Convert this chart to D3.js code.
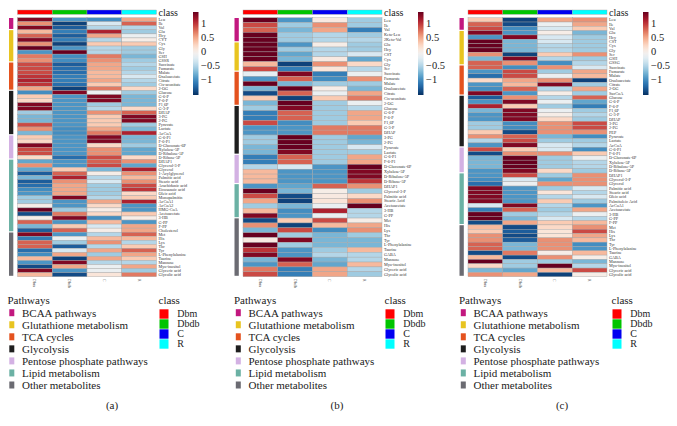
<!DOCTYPE html>
<html><head><meta charset="utf-8">
<script src="https://cdn.jsdelivr.net/npm/d3@7"></script>
<style>body{margin:0;background:#fff}svg{display:block}
svg text{font-family:"Liberation Serif","Times New Roman",Times,"DejaVu Serif",serif;}
</style>
</head><body>
<script>
// ---------- data ----------
const classes = ["Dbm","Dbdb","C","R"];
const classColors = ["#ff0000","#00c400","#0000f0","#00ffff"];
const pathways = ["BCAA pathways","Glutathione metabolism","TCA cycles","Glycolysis","Pentose phosphate pathways","Lipid metabolism","Other metabolites"];
const pathwayColors = ["#c2187f","#e8c420","#e4521e","#1e1e1e","#d3b1e3","#6bb1a4","#6b6b72"];
const colorTicks = [1,0.5,0,-0.5,-1];
const captions = ["(a)","(b)","(c)"];

const labelsA = ["Leu","Ile","Val","Glu","Hcy","CYT","Cys","Gly","Ser","GSH","GSSR","Succinate","Fumarate","Malate","Oxaloacetate","Citrate","Cis-aconitate","2-OG","Glucose","G-6-P","F-6-P","F1,6P","G-3-P","DHAP","3-PG","2-PG","Pyruvate","Lactate","AcCoA","G-6-P1","F-6-P1","D-Gluconate-6P","Xylulose-5P","D-Ribulose-5P","D-Ribose-5P","DHAP1","Glycerol-3-P","Glycerol","1-Acylglycerol","Palmitic acid","Stearic acid","Arachidonic acid","Eicosanoic acid","Oleic acid","Monopalmitin","AcCoA1","AcCoA2","HMG-CoA","Acetoacetate","3-HB","G-PP","F-PP","Cholesterol","Met","His","Lys","Thr","Tyr","L-Phenylalanine","Taurine","Mannose","Myo-inositol","Glyceric acid","Glycolic acid"];
const groupsA = [3,8,7,11,6,18,11];
const dbmA = [1.3,0.6,1.3,0.4,0.8,1.3,0.6,1.4,-0.95,0.7, 0.6,0.9,0.9,0.9,1.0,1.1,1.0,0.5,-1.0,0.3, 0.2,1.3,1.3,-0.6,-0.75,-0.75,0.9,0.6,-0.75,0.3, 0.2,1.3,0.9,0.9,0.2,-0.85,0.6,-0.85,-1.3,-0.75, -1.3,-1.2,-1.0,-0.95,-0.6,-0.6,0,1.4,-1.4,0, 0.8,-0.75,-1.3,1.3,-1.1,0.8,0.8,-1.2,-1.0,0.4, -0.95,-1.4,1.3,0.4];
const dbdbA = [-0.95,-1.45,-1.3,-1.1,-1.3,-1.1,-1.45,-0.95,1.4,-1.0, -1.0,-1.3,-1.2,-1.2,-1.1,-1.1,-1.2,-1.45,1.3,-0.95, -0.95,-0.95,-0.95,-0.95,-0.95,-0.95,-0.95,-1.0,-1.0,-0.95, -0.95,-0.95,-0.95,-0.95,-1.2,-0.95,-0.95,0.3,0.8,1.1, 0.6,0.5,0.5,0.5,1.3,-0.95,-0.95,-0.6,0.7,1.3, -0.95,0.3,0.8,-0.95,-0.15,-0.6,-1.3,-0.3,0.5,-1.45, 1.3,0.5,-0.95,-1.4];
const cA = [-1.0,-0.3,-0.5,1.1,0.5,-0.5,0.3,-0.5,-0.5,0.7, 0.6,0.5,0.5,0.4,0.4,0.5,0.3,0.7,-0.15,1.3, 1.3,-0.6,-0.5,0.6,0.3,0.3,0.3,0.5,0.7,1.3, 1.3,0.2,0.6,0.6,0.9,0.8,0.9,-0.75,0,-0.5, -0.3,-0.6,-0.6,-0.6,-0.5,0.5,0.2,0,0.2,-1.0, 0.4,-0.3,0,-0.5,0.4,0.6,-0.5,0.5,-0.6,0.5, -0.5,-0.15,-0.15,0.1];
const rA = [0.5,0.8,-0.5,-0.6,-0.15,0,0.3,-0.6,-0.6,-0.75, -0.6,-0.5,-0.6,-0.5,-0.3,-0.5,-0.6,0.2,-0.6,-0.75, -0.75,-0.75,0.2,0.8,1.3,1.3,-0.6,-0.75,1.1,-0.75, -0.75,-0.6,-0.85,-0.85,0.2,0.6,-0.85,1.1,0.6,0.4, 0.6,0.9,1.0,0.2,0.3,1.1,-0.95,-0.95,0.3,0, -0.95,0.5,0.5,0.8,0.4,-0.5,0.3,0.8,0.5,0.3, -0.5,0.5,-0.6,0.7];

const labelsB = ["Leu","Ile","Val","Keto-Leu","2Keto-Val","Glu","Hcy","CST","Cys","Gly","Ser","Succinate","Fumarate","Malate","Oxaloacetate","Citrate","Cis-aconitate","2-OG","Glucose","G-6-P","F-6-P","F1,6P","G-3-P","DHAP","3-PG","2-PG","Pyruvate","Lactate","G-6-P1","F-6-P1","D-Gluconate-6P","Xylulose-5P","D-Ribulose-5P","D-Ribose-5P","DHAP1","Glycerol-3-P","Palmitic acid","Stearic Acid","Acetoacetate","3-HB","G-PP","Met","His","Lys","Thr","Tyr","L-Phenylalanine","Taurine","GABA","Mannose","Myo-inositol","Glyceric acid","Glycolic acid"];
const groupsB = [5,6,7,10,6,7,12];
const dbmB = [1.4,0.9,0.8,1.4,1.4,1.4,1.4,1.4,1.4,0.4, 0.9,-0.2,-0.95,1.4,-0.75,-1.4,0.3,-0.75,-0.6,-1.1, -1.1,0.9,-0.95,-0.95,-0.6,-0.6,-0.75,-0.75,-1.1,-1.1, -0.5,0.4,0.4,0.4,-0.95,1.4,0.9,0.5,-0.6,0.4, 1.3,-1.4,0.6,-0.75,1.4,0.05,1.4,1.0,1.3,-0.75, -0.95,0.7,0.9];
const dbdbB = [-0.95,-0.6,-0.75,-0.6,-0.6,-0.95,-0.6,-0.85,-0.75,-1.45, -1.1,1.3,0.8,-0.75,1.4,0.8,-1.45,1.4,1.3,0.8, 0.8,-1.0,-0.95,-0.95,1.4,1.4,1.4,1.3,0.8,0.8, -0.3,-0.95,-0.95,-0.95,-0.85,-0.75,-1.4,-1.45,-0.75,-1.0, -0.95,0.3,-1.45,0.9,-0.6,1.3,-0.6,-0.95,-0.95,1.3, 0.8,-1.1,-1.1];
const cB = [0.05,0.6,0.5,-0.5,-0.5,0,-0.5,-0.5,0.05,0.6, 0.1,-1.1,-1.0,-0.6,0,-0.15,0.3,-0.6,-0.6,-0.6, -0.6,-0.6,0.7,0.7,-0.6,-0.6,-0.6,-0.6,-0.6,-0.6, -0.95,-0.95,-0.95,-0.95,0.8,0,0.05,0.1,-0.15,1.1, -0.15,0.9,0.4,-1.0,-0.75,-0.75,-0.75,-0.6,-0.5,-0.75, -0.85,0.5,0.5];
const rB = [-0.6,-0.6,-1.1,-0.6,-0.5,-0.6,-0.6,-0.3,-0.85,0.2, -0.5,-0.15,0.6,-0.6,-0.75,0.5,0.7,-0.15,-0.5,0.5, 0.5,0.3,0.7,0.7,-0.85,-0.75,-0.3,-0.6,0.5,0.5, 1.4,1.3,1.3,1.0,0.6,-0.6,0.2,0.6,1.4,-0.5, -0.5,0,0.5,0.6,-0.6,-0.75,-0.75,0.4,-0.5,-0.5, 0.4,-0.5,-0.6];

const labelsC = ["Leu","Ile","Val","Glu","Hcy","CST","Cys","Gly","Ser","GSH","GSSG","Succinate","Fumarate","Malate","Oxaloacetate","Citrate","2-OG","SucCoA","Glucose","G-6-P","F-6-P","F1,6P","G-3-P","DHAP","3-PG","2-PG","PEP","Pyruvate","Lactate","AcCoA","G-6-P1","F-6-P1","D-Gluconate-6P","Xylulose-5P","D-Ribulose-5P","D-Ribose-5P","DHAP1","Glycerol-3-P","Glycerol","Palmitic acid","Stearic acid","Oleic acid","Palmitoleic Acid","AcCoA1","Acetoacetate","3-HB","G-PP","F-PP","Met","His","Lys","Thr","Tyr","L-Phenylalanine","Taurine","GABA","Mannose","Myo-inositol","Glyceric acid","Glycolic acid"];
const groupsC = [3,8,7,12,6,12,12];
const dbmC = [0.3,0.8,0.9,1.3,-0.95,1.4,1.4,1.4,0.6,-0.75, 0.8,0.8,-0.95,-1.2,0.2,-0.95,-1.0,1.3,-1.3,-0.95, 1.1,-0.75,-0.95,-0.95,-0.6,-0.6,0.3,0.6,-0.5,-0.95, 0.9,-1.4,-0.75,-0.75,-0.75,-0.95,-0.95,-1.0,-1.2,1.3, 1.3,1.3,1.3,-0.3,-1.1,1.4,1.4,-1.4,0.4,0.3, 0.6,0.6,0.8,0.8,-1.4,0.4,1.4,0.2,-0.75,0.6];
const dbdbC = [-1.45,-1.4,-1.0,-0.95,1.3,-0.75,-0.75,-0.75,-1.45,1.3, 0.6,-1.0,0.9,0.9,0.5,0.4,0.8,-0.95,0.6,1.3, 0.3,1.3,1.3,1.3,-1.0,-1.0,-1.4,0.8,0.9,1.3, 0.3,0.6,1.4,1.4,1.4,1.3,0.9,-0.3,-0.15,-0.95, -0.95,-0.95,-0.95,1.3,0.8,-0.6,-0.75,0.5,-1.4,-1.3, -1.4,-1.3,-0.75,-0.75,0.7,-1.4,-0.6,-0.6,-0.85,0.5];
const cC = [0.5,-0.15,-0.3,0,-0.3,-0.3,-0.5,-0.5,0.3,-0.5, -1.0,0.6,-0.6,-0.15,0.6,1.3,-0.5,0,-0.5,-0.15, -0.6,-0.15,0,0.2,0.6,0.6,0.6,-0.75,-0.6,-0.3, -0.3,0.6,-0.6,-0.6,-0.6,0.2,-0.6,-0.85,0.6,-0.6, 0.1,-0.5,0.3,-0.5,-0.6,-0.5,-0.3,0.3,0.2,0.1, 0.1,0.6,0.6,0.6,0,0.6,-0.6,1.4,0.4,-1.45];
const rC = [0.6,0.5,0.3,-0.75,-0.6,-0.6,-0.6,-0.6,0.6,-0.6, -0.5,-0.3,0.5,0.4,-1.45,-0.6,0.5,-0.6,0.8,-0.85, -1.1,-0.6,-0.5,-0.6,0.9,0.9,0.6,-1.0,-0.6,-0.5, -1.0,0.3,-0.15,-0.5,-0.5,-0.6,0.6,0.6,0.6,-0.3, -0.5,-0.3,-0.6,-0.95,0.5,-0.15,-0.5,0.4,0.6,0.9, 0.5,0.4,-1.0,-0.95,0.4,0,-0.75,-0.5,0.9,0];

// ---------- layout ----------
const W = 677, H = 426;
const panels = [
  {labels:labelsA, groups:groupsA, cols:[dbmA,dbdbA,cA,rA], hx:17.5, lx:7.5, cx:159.5, cbx:193, cap:112},
  {labels:labelsB, groups:groupsB, cols:[dbmB,dbdbB,cB,rB], hx:243, lx:234, cx:385.5, cbx:418, cap:337},
  {labels:labelsC, groups:groupsC, cols:[dbmC,dbdbC,cC,rC], hx:468, lx:459, cx:612.5, cbx:643, cap:562}
];
const HW = 139, TOP = 17.7, BOT = 276.7;

const color = d3.scaleSequential(d3.interpolateRdBu).domain([1.4,-1.55]).clamp(true);

const svg = d3.select("body").append("svg").attr("width",W).attr("height",H);
const defs = svg.append("defs");
const grad = defs.append("linearGradient").attr("id","cb").attr("x1",0).attr("x2",0).attr("y1",0).attr("y2",1);
d3.range(0,1.0001,0.05).forEach(t=>{
  grad.append("stop").attr("offset",t).attr("stop-color",color(1.4 + t*(-1.55-1.4)));
});

panels.forEach((p,pi)=>{
  const g = svg.append("g");
  const n = p.labels.length;
  const x = d3.scaleBand().domain(classes).range([p.hx, p.hx+HW]);
  const y = d3.scaleBand().domain(d3.range(n)).range([TOP, BOT]);

  // class bar
  g.selectAll(".cls").data(classes).join("rect")
    .attr("x",d=>x(d)).attr("y",10).attr("width",x.bandwidth()).attr("height",4.3)
    .attr("fill",(d,i)=>classColors[i]).attr("stroke","#a0a0a0").attr("stroke-width",0.4);
  g.append("text").attr("x",p.hx+HW+2).attr("y",15.5).text("class")
    .attr("font-size",10).attr("fill","#222");

  // cells
  const cells = [];
  p.cols.forEach((col,ci)=>col.forEach((v,ri)=>cells.push({c:classes[ci],r:ri,v})));
  g.selectAll(".cell").data(cells).join("rect")
    .attr("x",d=>x(d.c)).attr("y",d=>y(d.r)).attr("width",x.bandwidth()).attr("height",y.bandwidth())
    .attr("fill",d=>color(d.v)).attr("stroke","#a3a3a3").attr("stroke-width",0.4);

  // pathway side bar
  let start = 0;
  p.groups.forEach((cnt,gi)=>{
    const y0 = y(start), y1 = y(start+cnt-1)+y.bandwidth();
    g.append("rect").attr("x",p.hx-8.5).attr("y",y0+0.3).attr("width",4.3).attr("height",y1-y0-1.2)
      .attr("fill",pathwayColors[gi]);
    start += cnt;
  });

  // row labels
  g.selectAll(".rl").data(p.labels).join("text")
    .attr("x",p.hx+HW+2).attr("y",(d,i)=>y(i)+y.bandwidth()/2).attr("dy","0.35em")
    .text(d=>d).attr("font-size",4.2).attr("fill","#333");

  // column labels (rotated)
  g.selectAll(".cl").data(classes).join("text")
    .attr("transform",d=>`translate(${x(d)+x.bandwidth()/2},${BOT+2}) rotate(90)`)
    .attr("dy","0.35em").text(d=>d).attr("font-size",4.2).attr("fill","#555");

  // color bar
  g.append("rect").attr("x",p.cbx).attr("y",12).attr("width",5.5).attr("height",83).attr("fill","url(#cb)");
  const cy = d3.scaleLinear().domain([1.4,-1.55]).range([12,95]);
  g.selectAll(".ct").data(colorTicks).join("text")
    .attr("x",p.cbx+8).attr("y",d=>cy(d)).attr("dy","0.35em")
    .text(d=>d<0?"\u2212"+Math.abs(d):String(d))
    .attr("font-size",10.5).attr("fill","#222");

  // pathways legend
  g.append("text").attr("x",p.lx).attr("y",304).text("Pathways")
    .attr("font-size",11).attr("fill","#222");
  pathways.forEach((name,i)=>{
    const cyy = 312.7 + i*12.05;
    g.append("rect").attr("x",p.lx+1.8).attr("y",cyy-3.5).attr("width",5).attr("height",7).attr("fill",pathwayColors[i]);
    g.append("text").attr("x",p.lx+14.5).attr("y",cyy).attr("dy","0.35em").text(name)
      .attr("font-size",11).attr("fill","#222");
  });

  // class legend
  g.append("text").attr("x",p.cx-1).attr("y",304).text("class")
    .attr("font-size",11).attr("fill","#222");
  classes.forEach((c,i)=>{
    const y0 = 309.3 + i*10;
    g.append("rect").attr("x",p.cx).attr("y",y0).attr("width",9).attr("height",9.4).attr("fill",classColors[i]);
    g.append("text").attr("x",p.cx+17.8).attr("y",y0+4.6).attr("dy","0.32em").text(c)
      .attr("font-size",10).attr("fill","#222");
  });

  // caption
  g.append("text").attr("x",p.cap).attr("y",405).attr("dy","0.35em").attr("text-anchor","middle")
    .text(captions[pi]).attr("font-size",11).attr("fill","#222");
});
</script>
</body></html>
